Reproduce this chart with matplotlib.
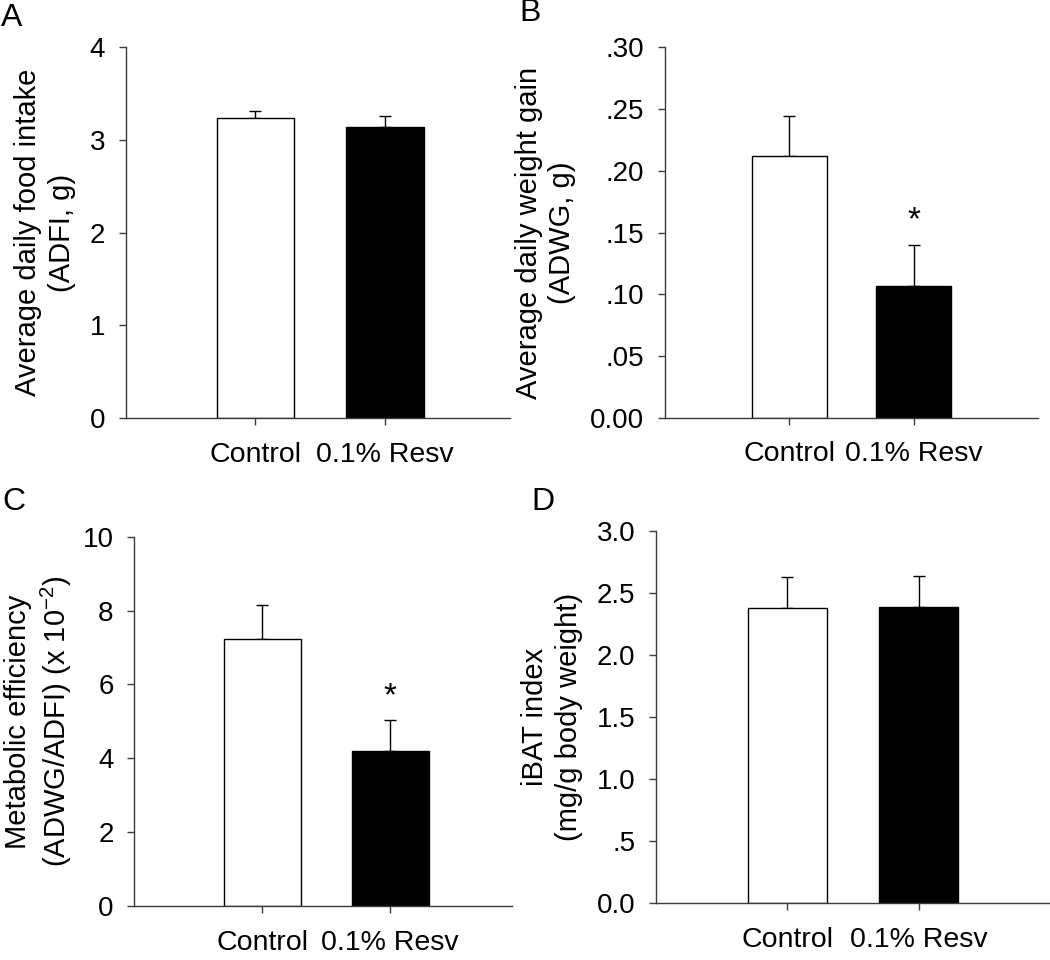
import matplotlib
matplotlib.use("Agg")
import matplotlib.pyplot as plt
from matplotlib.ticker import FixedLocator, FixedFormatter

plt.rcParams["font.family"] = ["Liberation Sans", "DejaVu Sans"]
plt.rcParams["mathtext.default"] = "regular"

groups = ["Control", "0.1% Resv"]
bar_colors = ["white", "black"]

adfi_mean = [3.23, 3.14]
adfi_err = [0.08, 0.12]

adwg_mean = [0.212, 0.107]
adwg_err = [0.032, 0.033]

meff_mean = [7.22, 4.19]
meff_err = [0.92, 0.84]

ibat_mean = [2.38, 2.385]
ibat_err = [0.25, 0.25]

W, H = 1050, 960

panels = [
    dict(letter="A", lpos=(1, 3), mean=adfi_mean, err=adfi_err, star=False,
         ylabel="Average daily food intake\n(ADFI, g)", lpad=10,
         ylim=(0, 4), ticks=[0, 1, 2, 3, 4],
         ticklabels=["0", "1", "2", "3", "4"],
         pos=[0.120, 0.5646, 0.366, 0.3864], xlim=(0, 2.97)),
    dict(letter="B", lpos=(519, -2), mean=adwg_mean, err=adwg_err, star=True,
         ylabel="Average daily weight gain\n(ADWG, g)", lpad=10,
         ylim=(0, 0.30), ticks=[0, 0.05, 0.10, 0.15, 0.20, 0.25, 0.30],
         ticklabels=["0.00", ".05", ".10", ".15", ".20", ".25", ".30"],
         pos=[0.6333, 0.5649, 0.3553, 0.3858], xlim=(0, 3.0)),
    dict(letter="C", lpos=(2, 487), mean=meff_mean, err=meff_err, star=True,
         ylabel="Metabolic efficiency\n(ADWG/ADFI) (x 10$^{-2}$)", lpad=6,
         ylim=(0, 10), ticks=[0, 2, 4, 6, 8, 10],
         ticklabels=["0", "2", "4", "6", "8", "10"],
         pos=[0.128, 0.05625, 0.3593, 0.3847], xlim=(0, 2.95)),
    dict(letter="D", lpos=(531, 487), mean=ibat_mean, err=ibat_err, star=False,
         ylabel="iBAT index\n(mg/g body weight)", lpad=10,
         ylim=(0, 3.0), ticks=[0, 0.5, 1.0, 1.5, 2.0, 2.5, 3.0],
         ticklabels=["0.0", ".5", "1.0", "1.5", "2.0", "2.5", "3.0"],
         pos=[0.6248, 0.059, 0.375, 0.388], xlim=(0, 3.0)),
]

fig = plt.figure(figsize=(W / 100, H / 100), dpi=100)
axis_col = "#3a3a3a"

for p in panels:
    ax = fig.add_axes(p["pos"])
    x = [1, 2]
    ax.bar(x, p["mean"], width=0.6, color=bar_colors, edgecolor="black",
           linewidth=1.0, zorder=2)
    ax.errorbar(x, p["mean"], yerr=[[0, 0], p["err"]], fmt="none",
                ecolor="black", elinewidth=1.0, capsize=4, capthick=1.0,
                zorder=1)
    if p["star"]:
        top = p["mean"][1] + p["err"][1]
        ax.annotate("*", (2, top), xytext=(0, 6), textcoords="offset points",
                    ha="center", va="bottom", fontsize=24)
    ax.set_xlim(*p["xlim"])
    ax.set_ylim(*p["ylim"])
    ax.yaxis.set_major_locator(FixedLocator(p["ticks"]))
    ax.yaxis.set_major_formatter(FixedFormatter(p["ticklabels"]))
    ax.set_xticks(x)
    ax.set_xticklabels(groups)
    for s in ["top", "right"]:
        ax.spines[s].set_visible(False)
    for s in ["left", "bottom"]:
        ax.spines[s].set_color(axis_col)
        ax.spines[s].set_linewidth(1.0)
    ax.tick_params(axis="y", direction="out", length=5, width=1.0,
                   color=axis_col, labelsize=20, pad=10)
    ax.tick_params(axis="x", direction="out", length=5, width=1.0,
                   color=axis_col, labelsize=20.5, pad=12)
    ax.set_ylabel(p["ylabel"], fontsize=21, linespacing=1.25,
                  labelpad=p["lpad"])
    lx, ly = p["lpos"]
    fig.text(lx / W, 1 - ly / H, p["letter"], fontsize=23,
             ha="left", va="top")

fig.savefig("out.png", dpi=100)
